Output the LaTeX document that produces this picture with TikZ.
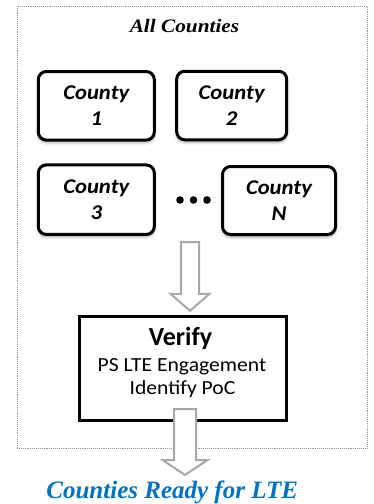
\documentclass[tikz,border=0pt]{standalone}
\usepackage{fontspec}
\setmainfont{Carlito}
\newfontfamily\labelsans[FakeStretch=1.08]{Carlito}
\newfontfamily\titleserif[FakeStretch=1.12]{Liberation Serif}
\newfontfamily\readyserif{Liberation Serif}
\usetikzlibrary{shadows.blur,calc}
\definecolor{framegray}{RGB}{150,150,150}
\definecolor{arrowgray}{RGB}{168,168,168}
\definecolor{readyblue}{RGB}{0,112,192}

% hollow block arrow: #1 top of shaft, #2 tip, #3 shaft half width,
% #4 head half width, #5 head length
\newcommand\hollowarrow[5]{%
  \draw[blockarrow] ($(#1)+(-#3,0)$) -- ($(#2)+(-#3,-#5)$) -- ($(#2)+(-#4,-#5)$)
    -- (#2) -- ($(#2)+(#4,-#5)$) -- ($(#2)+(#3,-#5)$) -- ($(#1)+(#3,0)$) -- cycle;}

\begin{document}
\begin{tikzpicture}[x=1pt,y=-1pt,
  outerframe/.style={draw=framegray, line width=0.9pt, densely dotted, inner sep=0pt},
  countybox/.style={draw=black, line width=3pt, rounded corners=8pt, fill=white,
    align=center, inner sep=0pt,
    font=\labelsans\bfseries\itshape\fontsize{21}{25.5}\selectfont,
    blur shadow={shadow xshift=0pt, shadow yshift=-2.5pt,
      shadow blur radius=3pt, shadow opacity=35}},
  verifybox/.style={draw=black, line width=2.7pt, fill=white, inner sep=0pt},
  blockarrow/.style={draw=arrowgray, line width=2pt, fill=white, line join=miter},
  headtext/.style={font=\titleserif\bfseries\itshape\fontsize{19}{22}\selectfont},
  readytext/.style={font=\readyserif\bfseries\itshape\fontsize{25}{29}\selectfont, text=readyblue},
  verifytitle/.style={font=\bfseries\fontsize{26}{30}\selectfont},
  verifyline/.style={font=\labelsans\fontsize{20}{23}\selectfont},
  dot/.style={fill=black}]
\useasboundingbox (0,0) rectangle (373,504);

% dotted frame around all counties
\node[outerframe, minimum width=350, minimum height=442] (frame) at (192,227) {};
\node[headtext, anchor=base] (title) at (184.5,32.7) {All Counties};

% county boxes
\node[countybox, minimum width=116, minimum height=68.5] (c1) at (96.3,105.8) {County\\1};
\node[countybox, minimum width=110, minimum height=68.5] (c2) at (231.7,105.5) {County\\2};
\node[countybox, minimum width=116, minimum height=69.5] (c3) at (96.3,199.7) {County\\3};
\node[countybox, minimum width=113, minimum height=68] (cN) at (279,200.5) {County\\\textit{N}};

% ellipsis between county 3 and county N
\fill[dot] (180,200) circle (3.8);
\fill[dot] (193.5,200) circle (3.8);
\fill[dot] (207,200) circle (3.8);

% verification step
\node[verifybox, minimum width=207, minimum height=104.3] (verify) at (183,368.3) {};
\node[verifytitle, anchor=base] (vtitle) at (180.5,345) {Verify};
\node[verifyline, anchor=base] (vline1) at (182,371.7) {PS LTE Engagement};
\node[verifyline, anchor=base] (vline2) at (182.5,394) {Identify PoC};

% outcome
\node[readytext, anchor=base] (ready) at (172.2,498.3) {Counties Ready for LTE};

% flow arrows
\coordinate (a1top) at (190,242);
\coordinate (a1tip) at ($(verify.north)+(7,-4)$);
\hollowarrow{a1top}{a1tip}{9}{19.5}{17}
\coordinate (a2top) at ($(verify.south)+(2,-12.7)$);
\coordinate (a2tip) at (185,475);
\hollowarrow{a2top}{a2tip}{11}{22.5}{15}
\end{tikzpicture}
\end{document}
